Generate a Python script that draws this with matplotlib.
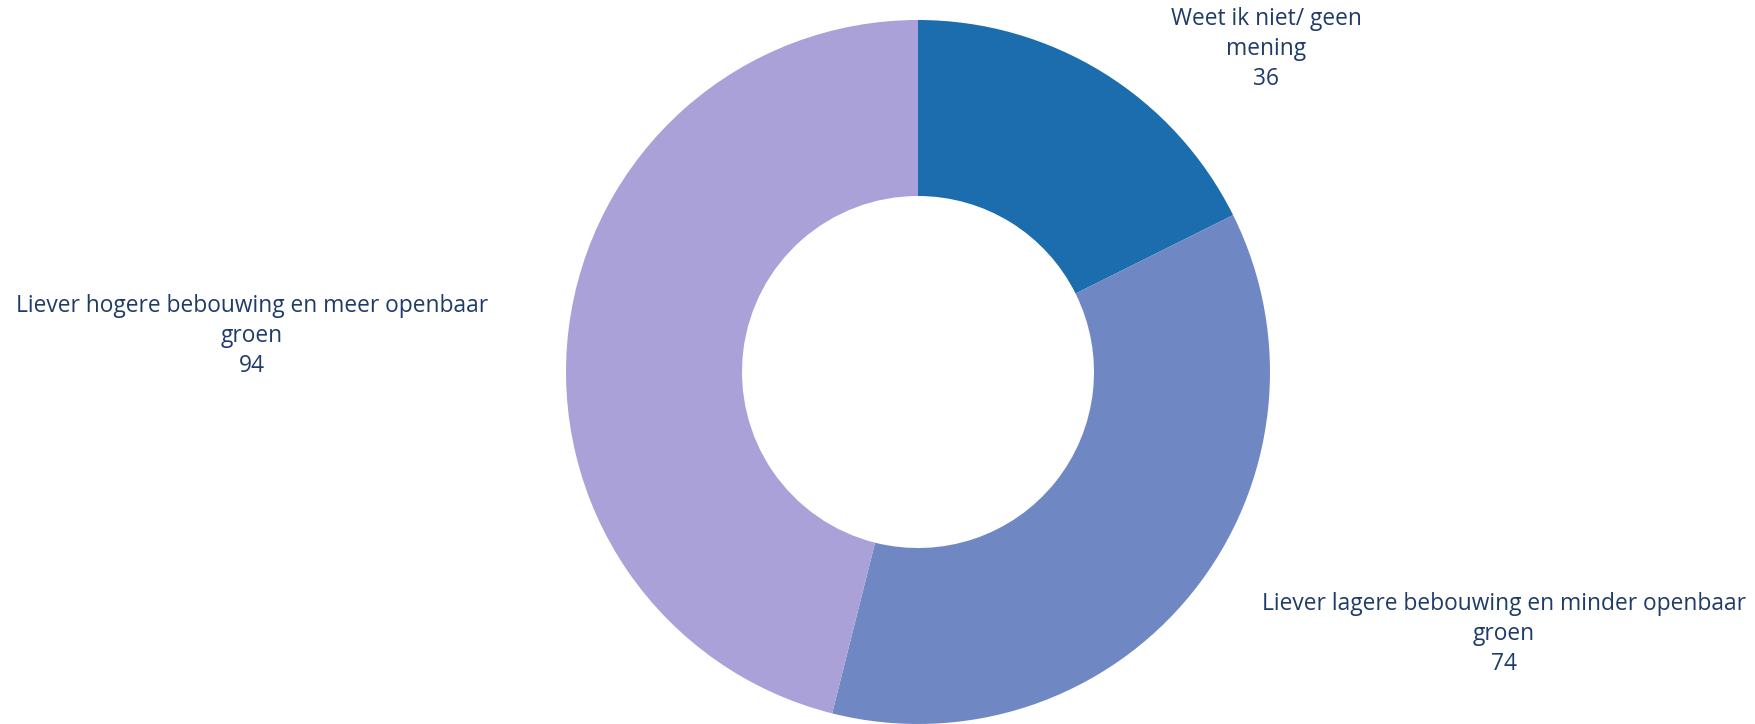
import matplotlib
matplotlib.use("Agg")
import matplotlib.pyplot as plt

categories = [
    "Weet ik niet/ geen\nmening",
    "Liever lagere bebouwing en minder openbaar\ngroen",
    "Liever hogere bebouwing en meer openbaar\ngroen",
]
values = [36, 74, 94]
colors = ["#1B6DAD", "#6F88C4", "#A9A1D8"]

W, H = 1756, 724
fig = plt.figure(figsize=(W / 100, H / 100), dpi=100)
ax = fig.add_axes([0, 0, 1, 1])

cx, cy, r = 918, H - 372, 352
ax.pie(values, colors=colors, startangle=90, counterclock=False,
       center=(cx, cy), radius=r, frame=True,
       wedgeprops=dict(width=r * 0.5, linewidth=0))
ax.set_xlim(0, W)
ax.set_ylim(0, H)
ax.axis("off")

label_pos = [(1266, H - 49), (1504, H - 634), (252, H - 336)]
text_color = "#1F3B68"
for cat, val, (x, y) in zip(categories, values, label_pos):
    ax.text(x, y, f"{cat}\n{val}", ha="center", va="center",
            fontsize=16.4, color=text_color, family="Open Sans",
            linespacing=1.33)

fig.savefig("out.png", dpi=100)
